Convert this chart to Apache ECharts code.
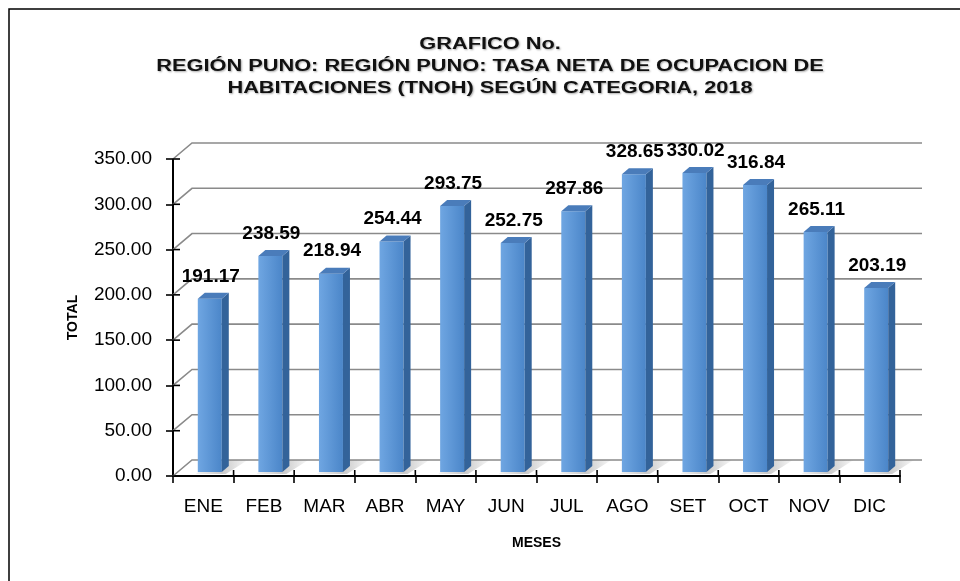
<!DOCTYPE html>
<html>
<head>
<meta charset="utf-8">
<script src="https://cdn.jsdelivr.net/npm/echarts@6/dist/echarts.min.js"></script>
<style>
    html, body { margin: 0; padding: 0; background: #ffffff; }
    #tnoh { width: 960px; height: 581px; }
</style>
</head>
<body>
<div id="tnoh"></div>
<script>
// datos
var meses = ['ENE', 'FEB', 'MAR', 'ABR', 'MAY', 'JUN', 'JUL', 'AGO', 'SET', 'OCT', 'NOV', 'DIC'];
var tnoh = [191.17, 238.59, 218.94, 254.44, 293.75, 252.75, 287.86, 328.65, 330.02, 316.84, 265.11, 203.19];
var yTicks = [0, 50, 100, 150, 200, 250, 300, 350];
var titulo = 'GRAFICO No.\nREGIÓN PUNO: REGIÓN PUNO: TASA NETA DE OCUPACION DE\nHABITACIONES (TNOH) SEGÚN CATEGORIA, 2018';

var chart = echarts.init(document.getElementById('tnoh'));

// pared del fondo (lineas de division en perspectiva)
function renderWall(params, api) {
    var cs = params.coordSys;
    var p = api.coord([0, api.value(0)]);
    var y = p[1];
    var left = cs.x;
    var right = cs.x + cs.width;
    return {
        type: 'group',
        children: [
            {
                type: 'polyline',
                shape: { points: [[left, y], [left + 19, y - 16], [right + 22, y - 16]] },
                style: { stroke: '#8a8a8a', lineWidth: 1.6, fill: null }
            },
            {
                type: 'line',
                shape: { x1: left, y1: y, x2: left + 7, y2: y },
                style: { stroke: '#000', lineWidth: 1.6 }
            }
        ]
    };
}

// barra 3D
function renderBar(params, api) {
    var idx = api.value(0);
    var val = api.value(1);
    var base = api.coord([idx, 0]);
    var top = api.coord([idx, val]);
    var band = api.size([1, 0])[0];
    var xl = base[0] - 5.5;
    var xr = base[0] + 18.5;
    var yb = base[1] - 4;
    var yt = top[1] - 4;
    var dx = 7, dy = 6;
    return {
        type: 'group',
        children: [
            {
                type: 'polygon',
                shape: { points: [[xl - 2, yb + 2], [xr + 4, yb + 2], [xr + 26, yb - 12], [xl + 16, yb - 12]] },
                style: {
                    fill: new echarts.graphic.LinearGradient(0, 0, 1, 0, [
                        { offset: 0, color: 'rgba(120,120,120,0.10)' },
                        { offset: 0.5, color: 'rgba(120,120,120,0.40)' },
                        { offset: 1, color: 'rgba(120,120,120,0.05)' }
                    ])
                },
                z2: 1
            },
            {
                type: 'rect',
                shape: { x: xl, y: yt, width: xr - xl, height: yb - yt },
                style: {
                    fill: new echarts.graphic.LinearGradient(0, 0, 1, 0, [
                        { offset: 0, color: '#6fa6e2' },
                        { offset: 1, color: '#4b86c9' }
                    ])
                },
                z2: 3
            },
            {
                type: 'polygon',
                shape: { points: [[xr, yt], [xr + dx, yt - dy], [xr + dx, yb - dy], [xr, yb]] },
                style: { fill: '#33639a' },
                z2: 3
            },
            {
                type: 'polygon',
                shape: { points: [[xl, yt], [xl + dx, yt - dy], [xr + dx, yt - dy], [xr, yt]] },
                style: { fill: '#4a7cba' },
                z2: 3
            },
            {
                type: 'line',
                shape: { x1: base[0] + band / 2, y1: base[1] - 6, x2: base[0] + band / 2, y2: base[1] },
                style: { stroke: '#000', lineWidth: 1.6 },
                z2: 4
            },
            {
                type: 'text',
                style: {
                    text: val.toFixed(2),
                    x: (xl + xr) / 2 + 1,
                    y: yt - dy - 7,
                    align: 'center',
                    verticalAlign: 'bottom',
                    font: 'bold 19px "Liberation Sans", Arial, sans-serif',
                    fill: '#000'
                },
                z2: 5
            }
        ]
    };
}

var option = {
    animation: false,
    textStyle: {
        fontFamily: '"Liberation Sans", Arial, sans-serif'
    },
    graphic: [
        {
            type: 'rect',
            shape: { x: 9, y: 9, width: 1000, height: 1000 },
            style: { fill: null, stroke: '#000', lineWidth: 1.5 },
            silent: true
        },
        {
            // titulo, estirado a lo ancho como en el original
            type: 'text',
            x: 490,
            y: 34,
            scaleX: 1.36,
            style: {
                text: titulo,
                align: 'center',
                verticalAlign: 'top',
                font: 'bold 16px "Liberation Sans", Arial, sans-serif',
                lineHeight: 22,
                fill: '#111',
                textShadowColor: 'rgba(0,0,0,0.35)',
                textShadowBlur: 2,
                textShadowOffsetX: 1,
                textShadowOffsetY: 1
            },
            silent: true
        }
    ],
    grid: {
        left: 173,
        right: 60,
        top: 159,
        bottom: 105
    },
    xAxis: {
        type: 'category',
        data: meses,
        name: 'MESES',
        nameLocation: 'middle',
        nameGap: 60,
        nameTextStyle: {
            fontSize: 14,
            fontWeight: 'bold',
            color: '#000'
        },
        axisLine: { lineStyle: { color: '#000', width: 2 } },
        axisTick: { show: true, length: 7, lineStyle: { color: '#000', width: 1.6 } },
        axisLabel: {
            fontSize: 19,
            color: '#000',
            margin: 21
        },
        splitLine: { show: false }
    },
    yAxis: {
        type: 'value',
        min: 0,
        max: 350,
        interval: 50,
        name: 'TOTAL',
        nameLocation: 'middle',
        nameGap: 93,
        nameRotate: 90,
        nameTextStyle: {
            fontSize: 14,
            fontWeight: 'bold',
            color: '#000'
        },
        axisLine: { show: true, lineStyle: { color: '#000', width: 2 } },
        axisTick: { show: true, length: 7, lineStyle: { color: '#000', width: 1.6 } },
        axisLabel: {
            fontSize: 19,
            color: '#000',
            margin: 21,
            formatter: function (v) { return v.toFixed(2); }
        },
        splitLine: { show: false }
    },
    series: [
        {
            name: 'pared',
            type: 'custom',
            renderItem: renderWall,
            data: yTicks.map(function (v) { return [v]; }),
            encode: { y: 0 },
            silent: true,
            z: 1
        },
        {
            name: 'TNOH',
            type: 'custom',
            renderItem: renderBar,
            data: tnoh.map(function (v, i) { return [i, v]; }),
            encode: { x: 0, y: 1 },
            z: 3
        }
    ]
};
chart.setOption(option);
</script>
</body>
</html>
